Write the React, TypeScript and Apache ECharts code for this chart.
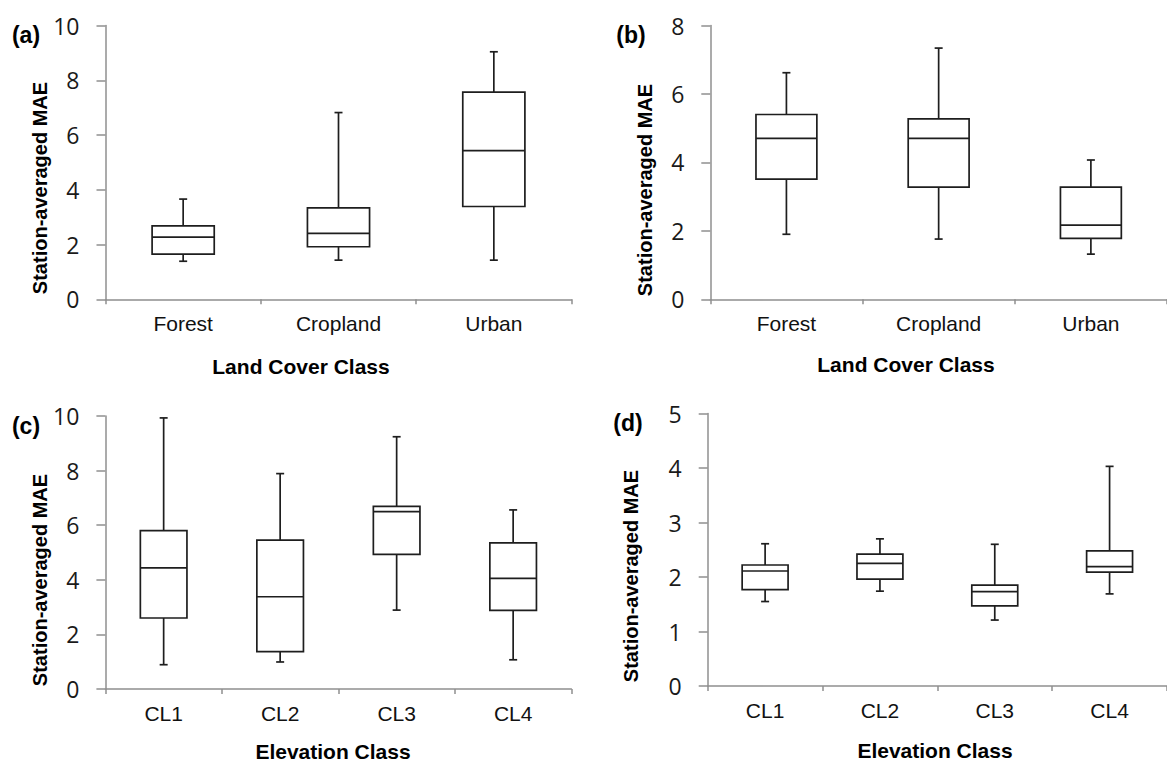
import React, { useEffect, useRef } from "react";
import * as echarts from "echarts";

// ---- Data ----
const landCats = ["Forest", "Cropland", "Urban"];
const elevCats = ["CL1", "CL2", "CL3", "CL4"];

// (a) Land cover, panel a
const aMin = [1.39, 1.43, 1.43];
const aQ1 = [1.65, 1.92, 3.39];
const aMed = [2.27, 2.41, 5.43];
const aQ3 = [2.68, 3.34, 7.57];
const aMax = [3.66, 6.82, 9.04];

// (b) Land cover, panel b
const bMin = [1.9, 1.76, 1.32];
const bQ1 = [3.51, 3.28, 1.78];
const bMed = [4.7, 4.7, 2.17];
const bQ3 = [5.4, 5.27, 3.28];
const bMax = [6.62, 7.34, 4.07];

// (c) Elevation, panel c
const cMin = [0.89, 0.99, 2.89, 1.07];
const cQ1 = [2.6, 1.37, 4.93, 2.88];
const cMed = [4.44, 3.38, 6.5, 4.05];
const cQ3 = [5.8, 5.45, 6.69, 5.35];
const cMax = [9.93, 7.89, 9.24, 6.56];

// (d) Elevation, panel d
const dMin = [1.55, 1.74, 1.21, 1.69];
const dQ1 = [1.77, 1.96, 1.47, 2.09];
const dMed = [2.11, 2.25, 1.73, 2.19];
const dQ3 = [2.22, 2.42, 1.85, 2.48];
const dMax = [2.61, 2.7, 2.6, 4.03];

const yTitle = "Station-averaged MAE";
const landTitle = "Land Cover Class";
const elevTitle = "Elevation Class";

const AXIS_GREY = "#8f8f8f";
const INK = "#1e1e1e";

function buildRows(mn: number[], q1: number[], md: number[], q3: number[], mx: number[]) {
  return mn.map((_, i) => [i, mn[i], q1[i], md[i], q3[i], mx[i]]);
}

const renderBox = (params: any, api: any) => {
  const x = api.value(0);
  const vMin = api.coord([x, api.value(1)]);
  const vQ1 = api.coord([x, api.value(2)]);
  const vMed = api.coord([x, api.value(3)]);
  const vQ3 = api.coord([x, api.value(4)]);
  const vMax = api.coord([x, api.value(5)]);
  const band = api.size([1, 0])[0];
  const bw = band * 0.4;
  const cx = vMed[0];
  const cap = 4;
  const ls = { stroke: INK, lineWidth: 1.7, fill: "none" };
  return {
    type: "group",
    children: [
      { type: "line", shape: { x1: cx, y1: vQ3[1], x2: cx, y2: vMax[1] }, style: ls },
      { type: "line", shape: { x1: cx, y1: vQ1[1], x2: cx, y2: vMin[1] }, style: ls },
      { type: "line", shape: { x1: cx - cap, y1: vMax[1], x2: cx + cap, y2: vMax[1] }, style: ls },
      { type: "line", shape: { x1: cx - cap, y1: vMin[1], x2: cx + cap, y2: vMin[1] }, style: ls },
      {
        type: "rect",
        shape: { x: cx - bw / 2, y: vQ3[1], width: bw, height: vQ1[1] - vQ3[1] },
        style: { stroke: INK, lineWidth: 1.7, fill: "#fff" },
      },
      { type: "line", shape: { x1: cx - bw / 2, y1: vMed[1], x2: cx + bw / 2, y2: vMed[1] }, style: ls },
    ],
  };
};

export default function App() {
  const ref = useRef<HTMLDivElement>(null);
  useEffect(() => {
    if (!ref.current) return;
    const chart = echarts.init(ref.current, null, { renderer: "svg" });

    const grids = [
      { left: 105.5, top: 25.5, width: 466, height: 273.8 },
      { left: 710.3, top: 25.5, width: 466, height: 273.8 },
      { left: 105.4, top: 416, width: 466, height: 273 },
      { left: 707.7, top: 413.5, width: 466.4, height: 272.5 },
    ];

    const xAxisBase = (idx: number, cats: string[]) => ({
      type: "category",
      gridIndex: idx,
      data: cats,
      boundaryGap: true,
      axisLine: { lineStyle: { color: AXIS_GREY, width: 1.5 } },
      axisTick: { show: true, length: 5, lineStyle: { color: AXIS_GREY, width: 1.5 } },
      axisLabel: {
        color: "#111",
        fontFamily: "Liberation Sans, Arial, sans-serif",
        fontSize: 21,
        margin: 14,
      },
      splitLine: { show: false },
    });

    const yAxisBase = (idx: number, max: number, interval: number) => ({
      type: "value",
      gridIndex: idx,
      min: 0,
      max,
      interval,
      axisLine: { show: true, lineStyle: { color: AXIS_GREY, width: 1.5 } },
      axisTick: { show: true, length: 9, lineStyle: { color: AXIS_GREY, width: 1.5 } },
      axisLabel: {
        color: "#1a1a1a",
        fontFamily: "Open Sans, Noto Sans, sans-serif",
        fontSize: 23,
        margin: 26,
      },
      splitLine: { show: false },
    });

    const txt = (text: string, x: number, y: number, size: number, rot = 0) => ({
      type: "text",
      x,
      y,
      rotation: rot,
      style: {
        text,
        fill: "#000",
        font: `bold ${size}px "Liberation Sans", Arial, sans-serif`,
        align: "center",
        verticalAlign: "middle",
      },
    });

    chart.setOption({
      animation: false,
      backgroundColor: "#fff",
      grid: grids,
      xAxis: [
        xAxisBase(0, landCats),
        xAxisBase(1, landCats),
        xAxisBase(2, elevCats),
        xAxisBase(3, elevCats),
      ],
      yAxis: [
        yAxisBase(0, 10, 2),
        yAxisBase(1, 8, 2),
        yAxisBase(2, 10, 2),
        yAxisBase(3, 5, 1),
      ],
      series: [
        { type: "custom", xAxisIndex: 0, yAxisIndex: 0, renderItem: renderBox, data: buildRows(aMin, aQ1, aMed, aQ3, aMax), encode: { x: 0, y: [1, 2, 3, 4, 5] } },
        { type: "custom", xAxisIndex: 1, yAxisIndex: 1, renderItem: renderBox, data: buildRows(bMin, bQ1, bMed, bQ3, bMax), encode: { x: 0, y: [1, 2, 3, 4, 5] } },
        { type: "custom", xAxisIndex: 2, yAxisIndex: 2, renderItem: renderBox, data: buildRows(cMin, cQ1, cMed, cQ3, cMax), encode: { x: 0, y: [1, 2, 3, 4, 5] } },
        { type: "custom", xAxisIndex: 3, yAxisIndex: 3, renderItem: renderBox, data: buildRows(dMin, dQ1, dMed, dQ3, dMax), encode: { x: 0, y: [1, 2, 3, 4, 5] } },
      ],
      graphic: [
        txt("(a)", 26, 35, 23),
        txt("(b)", 631, 35, 23),
        txt("(c)", 26, 426, 23),
        txt("(d)", 628, 423, 23),
        txt(yTitle, 40, 188, 20, Math.PI / 2),
        txt(yTitle, 645, 190, 20, Math.PI / 2),
        txt(yTitle, 40, 580, 20, Math.PI / 2),
        txt(yTitle, 631, 576, 20, Math.PI / 2),
        txt(landTitle, 301, 366, 21),
        txt(landTitle, 906, 364, 21),
        txt(elevTitle, 333, 751, 21),
        txt(elevTitle, 935, 750, 21),
      ],
    });
    return () => chart.dispose();
  }, []);
  return (
    <div
      ref={ref}
      style={{ position: "fixed", left: 0, top: 0, width: 1167, height: 764, background: "#fff" }}
    />
  );
}
